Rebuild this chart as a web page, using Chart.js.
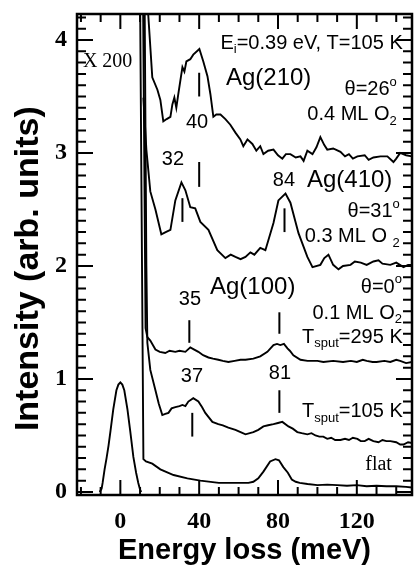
<!DOCTYPE html>
<html><head><meta charset="utf-8">
<script src="https://cdn.jsdelivr.net/npm/chart.js@4.4.1/dist/chart.umd.min.js"></script>
<style>html,body{margin:0;padding:0;background:#fff;}#wrap{width:415px;height:580px;}</style>
</head><body><div id="wrap"><canvas id="c" width="415" height="580"></canvas></div>
<script>
// ---- tick values ----
const xTickValues = [0, 40, 80, 120];
const yTickValues = [0, 1, 2, 3, 4];

// ---- elastic peak (flat surface, x1) ----
const elasticX = [-10.5,-9.5,-9,-8,-7,-6,-5,-3.6,-2,-1,0,1,2,3.6,5,6.6,8,9.1,10,10.6];
const elasticY = [0,0.03,0.08,0.2,0.3,0.41,0.54,0.73,0.9,0.95,0.97,0.95,0.9,0.73,0.54,0.31,0.17,0.08,0.02,0];

// ---- flat surface, x200 ----
const flatX = [10.0,11.7,13,16.2,20.3,27,34,40.6,50,60,65,67.5,70,72.6,76,78.7,80.5,82.7,85,87,89,91,95,100,105,110,115,120,125,130,135,140,145,148];
const flatY = [4.4,0.29,0.27,0.25,0.2,0.15,0.12,0.1,0.08,0.08,0.08,0.09,0.12,0.18,0.27,0.29,0.28,0.22,0.17,0.11,0.09,0.08,0.07,0.06,0.065,0.06,0.055,0.06,0.05,0.055,0.05,0.05,0.045,0.04];

// ---- Ag(100), Tsput=105 K ----
const t105X = [12.3,13.2,13.7,15.2,17.8,19.5,21.3,22.8,24.4,26,27.9,30,31.5,33,34.5,37,39.6,41.5,43.1,46.7,49.7,52,54.8,58.4,61,63.5,67.5,70,72.6,75,77.7,80,82.2,85.3,87.5,89.8,92,94.9,97,99,101,103,105,107,109,111.7,114,116,118,120.3,122,124,126,128.4,131,133,135,137,140,142,143.7,146,148.7];
const t105Y = [4.4,2.0,1.32,1.08,0.9,0.78,0.68,0.69,0.70,0.74,0.75,0.76,0.77,0.76,0.80,0.83,0.80,0.75,0.70,0.62,0.60,0.59,0.57,0.55,0.53,0.51,0.53,0.55,0.58,0.59,0.60,0.61,0.62,0.58,0.56,0.53,0.52,0.51,0.52,0.50,0.49,0.49,0.47,0.48,0.46,0.46,0.47,0.46,0.48,0.47,0.45,0.45,0.47,0.45,0.44,0.46,0.45,0.45,0.44,0.42,0.42,0.44,0.43];

// ---- Ag(100), Tsput=295 K, 0.1 ML O2 ----
const t295X = [11.5,12.8,13.7,15.2,17.8,20,22.8,25,27.9,30,33,35.5,37.5,39.6,42,44.7,47,49.7,52,54.8,58,61,63.5,67.5,71,74.6,77.7,79.5,81.2,83,84.8,86,87.8,91.4,95,100,103,108,113,117,120,123,125,128,130,134,137,140,142,145,148];
const t295Y = [4.4,1.45,1.37,1.34,1.26,1.24,1.23,1.25,1.24,1.25,1.24,1.28,1.26,1.24,1.21,1.19,1.18,1.17,1.16,1.15,1.16,1.17,1.17,1.18,1.2,1.24,1.3,1.31,1.30,1.31,1.27,1.25,1.21,1.17,1.16,1.16,1.15,1.16,1.15,1.16,1.15,1.17,1.16,1.15,1.15,1.16,1.15,1.17,1.16,1.14,1.15];

// ---- Ag(410), 0.3 ML O2 ----
const ag410X = [11.7,13.2,15.2,17.8,20.8,23,25.4,27.9,31,33,35.5,38,40.6,44.7,49.2,53.3,56,58.4,61,63.5,66,68,71,73.6,77.7,80.2,83.8,86.3,90.4,94.9,97.5,101.5,103.5,105.6,108,110.7,113,116.8,119,122,125,128.4,131,133,137,140,143.7,146,148];
const ag410Y = [3.49,3.03,2.66,2.50,2.28,2.30,2.32,2.58,2.74,2.67,2.52,2.51,2.39,2.32,2.14,2.07,2.10,2.08,2.06,2.08,2.12,2.10,2.16,2.14,2.38,2.58,2.64,2.56,2.29,2.08,1.99,2.01,2.07,2.10,2.01,1.97,2.00,2.01,2.04,2.03,2.01,2.04,2.05,2.02,2.01,2.03,1.99,2.01,2.01];

// ---- Ag(210), 0.4 ML O2 ----
const ag210X = [13.5,16.2,18.8,20.3,21.8,23.5,25.4,26.4,27.4,28.4,29.4,31.5,32.5,33.5,35.5,37,40.1,42.1,44.2,45.7,47.2,48.7,50.8,53.3,55.8,58.4,60.9,62.4,64.5,67,69,71,72.6,75,77.7,80,82.2,84,86.3,89,91.4,93,94.9,97.5,99.5,101.5,103.5,105,108,111.7,114,116,118,120.3,124,126,128.4,132,135.5,138.6,140,142,145,148];
const ag210Y = [4.4,3.67,3.56,3.47,3.28,3.30,3.32,3.43,3.49,3.40,3.52,3.76,3.72,3.81,3.83,3.87,3.92,3.81,3.68,3.52,3.32,3.34,3.34,3.30,3.25,3.18,3.12,3.06,3.12,3.08,3.02,3.06,2.99,3.02,3.03,2.98,2.95,2.99,2.99,2.96,2.97,2.93,3.02,2.99,3.05,3.14,3.07,3.03,3.04,3.01,2.97,2.99,2.95,2.97,2.98,2.94,2.96,2.97,2.97,2.92,2.95,3.0,2.98,2.97];

// ---- peak marker bars: energy, lower, upper ----
const markerE  = [40, 40, 31.5, 83.3, 35, 80.7, 36.5, 80.7];
const markerLo = [3.50, 2.70, 2.39, 2.30, 1.32, 1.40, 0.49, 0.70];
const markerHi = [3.71, 2.92, 2.60, 2.51, 1.52, 1.59, 0.70, 0.90];

const pts = (xs, ys) => xs.map((v, i) => ({x: v, y: ys[i]}));
const lineStyle = {showLine: true, pointRadius: 0, borderColor: '#000', borderWidth: 1.9, fill: false, tension: 0};

const datasets = [
  {label: 'elastic', data: pts(elasticX, elasticY), ...lineStyle},
  {label: 'flat x200', data: pts(flatX, flatY), ...lineStyle},
  {label: 'Tsput=105 K', data: pts(t105X, t105Y), ...lineStyle},
  {label: 'Tsput=295 K', data: pts(t295X, t295Y), ...lineStyle},
  {label: 'Ag(410)', data: pts(ag410X, ag410Y), ...lineStyle},
  {label: 'Ag(210)', data: pts(ag210X, ag210Y), ...lineStyle},
];
markerE.forEach((e, i) => datasets.push({label: 'marker' + i, data: [{x: e, y: markerLo[i]}, {x: e, y: markerHi[i]}], ...lineStyle, borderWidth: 2}));

const SANS = '"Liberation Sans", Arial, Helvetica, sans-serif';
const SERIF = '"Liberation Serif", "Times New Roman", serif';

// annotations: x,y in data units; align: left/right/center
const annotations = [
  {x: -19, y: 3.81, align: 'left', size: 20, fam: SERIF, segs: [['X 200', 'n']]},
  {x: 143.3, y: 3.97, align: 'right', size: 20, segs: [['E', 'n'], ['i', 'sub'], ['=0.39 eV, T=105 K', 'n']]},
  {x: 53.6, y: 3.66, align: 'left', size: 24, segs: [['Ag(210)', 'n']]},
  {x: 140.3, y: 3.56, align: 'right', size: 20, segs: [['θ=26', 'n'], ['o', 'sup']]},
  {x: 140.3, y: 3.34, align: 'right', size: 20, segs: [['0.4 ML O', 'n'], ['2', 'sub']]},
  {x: 38.9, y: 3.27, align: 'center', size: 20, segs: [['40', 'n']]},
  {x: 26.7, y: 2.94, align: 'center', size: 20, segs: [['32', 'n']]},
  {x: 83, y: 2.76, align: 'center', size: 20, segs: [['84', 'n']]},
  {x: 94.7, y: 2.76, align: 'left', size: 24, segs: [['Ag(410)', 'n']]},
  {x: 141.8, y: 2.48, align: 'right', size: 20, segs: [['θ=31', 'n'], ['o', 'sup']]},
  {x: 141.8, y: 2.26, align: 'right', size: 20, segs: [['0.3 ML O ', 'n'], ['2', 'sub']]},
  {x: 45.5, y: 1.81, align: 'left', size: 24, segs: [['Ag(100)', 'n']]},
  {x: 142.9, y: 1.81, align: 'right', size: 20, segs: [['θ=0', 'n'], ['o', 'sup']]},
  {x: 35.3, y: 1.70, align: 'center', size: 20, segs: [['35', 'n']]},
  {x: 142.9, y: 1.58, align: 'right', size: 20, segs: [['0.1 ML O', 'n'], ['2', 'sub']]},
  {x: 143.3, y: 1.37, align: 'right', size: 20, segs: [['T', 'n'], ['sput', 'sub'], ['=295 K', 'n']]},
  {x: 81, y: 1.05, align: 'center', size: 20, segs: [['81', 'n']]},
  {x: 36.3, y: 1.02, align: 'center', size: 20, segs: [['37', 'n']]},
  {x: 143.3, y: 0.71, align: 'right', size: 20, segs: [['T', 'n'], ['sput', 'sub'], ['=105 K', 'n']]},
  {x: 137.8, y: 0.24, align: 'right', size: 20, fam: SERIF, segs: [['flat', 'n']]},
];

const frameTicks = {
  id: 'frameTicks',
  afterDatasetsDraw(chart) {
    const {ctx, chartArea: a, scales: {x, y}} = chart;
    ctx.save();
    ctx.strokeStyle = '#000';
    ctx.lineWidth = 2;
    ctx.beginPath();
    for (let v = -20; v <= 140; v += 10) {
      const px = x.getPixelForValue(v);
      const L = xTickValues.includes(v) ? 15 : 8;
      ctx.moveTo(px, a.bottom); ctx.lineTo(px, a.bottom - L);
      ctx.moveTo(px, a.top); ctx.lineTo(px, a.top + L);
    }
    for (let i = 0; i <= 42; i++) {
      const py = y.getPixelForValue(i / 10);
      const L = (i % 10 === 0) ? 16 : 9;
      ctx.moveTo(a.left, py); ctx.lineTo(a.left + L, py);
      ctx.moveTo(a.right, py); ctx.lineTo(a.right - L, py);
    }
    ctx.stroke();
    ctx.lineWidth = 2.5;
    ctx.strokeRect(a.left, a.top, a.width, a.height);
    ctx.restore();
  },
  afterDraw(chart) {
    const {ctx, scales: {x, y}} = chart;
    ctx.save();
    ctx.fillStyle = '#000';
    ctx.textBaseline = 'middle';
    annotations.forEach(an => {
      const fam = an.fam || SANS;
      const parts = an.segs.map(([t, k]) => {
        const sz = k === 'n' ? an.size : Math.round(an.size * 0.65);
        ctx.font = sz + 'px ' + fam;
        return {t, k, sz, w: ctx.measureText(t).width};
      });
      const total = parts.reduce((s, p) => s + p.w, 0);
      let px = x.getPixelForValue(an.x);
      const py = y.getPixelForValue(an.y);
      if (an.align === 'right') px -= total;
      else if (an.align === 'center') px -= total / 2;
      parts.forEach(p => {
        ctx.font = p.sz + 'px ' + fam;
        let dy = 0;
        if (p.k === 'sub') dy = an.size * 0.32;
        if (p.k === 'sup') dy = -an.size * 0.38;
        ctx.textAlign = 'left';
        ctx.fillText(p.t, px, py + dy);
        px += p.w;
      });
    });
    ctx.restore();
  }
};

new Chart(document.getElementById('c'), {
  type: 'scatter',
  data: {datasets},
  options: {
    responsive: false,
    animation: false,
    events: [],
    layout: {padding: {top: 14, right: 3, left: 0, bottom: 0}},
    plugins: {legend: {display: false}, tooltip: {enabled: false}},
    scales: {
      x: {
        type: 'linear', min: -22, max: 148,
        afterBuildTicks: s => { s.ticks = xTickValues.map(v => ({value: v})); },
        afterFit: s => { s.height = 85; s.paddingLeft = 0; s.paddingRight = 0; },
        grid: {display: false, drawTicks: false},
        border: {display: true, color: '#000', width: 2},
        ticks: {color: '#000', padding: 12, font: {family: SERIF, size: 24, weight: 'bold'}},
        title: {display: true, text: 'Energy loss (meV)', color: '#000', padding: {top: 0, bottom: 12},
                font: {family: SANS, size: 29, weight: 'bold'}}
      },
      y: {
        type: 'linear', min: -0.027, max: 4.23,
        afterBuildTicks: s => { s.ticks = yTickValues.map(v => ({value: v})); },
        afterFit: s => { s.width = 77; s.paddingTop = 0; s.paddingBottom = 0; },
        grid: {display: false, drawTicks: false},
        border: {display: true, color: '#000', width: 2},
        ticks: {color: '#000', padding: 10, font: {family: SERIF, size: 24, weight: 'bold'}},
        title: {display: true, text: 'Intensity (arb. units)   ', color: '#000', padding: {top: 8, bottom: 0},
                font: {family: SANS, size: 34, weight: 'bold'}}
      }
    }
  },
  plugins: [frameTicks]
});
</script></body></html>
